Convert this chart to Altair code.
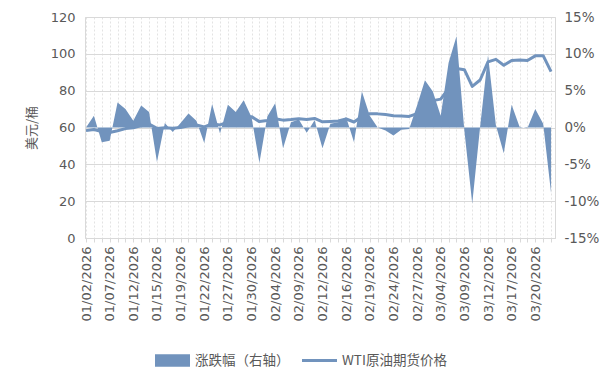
import json
import altair as alt
import pandas as pd

# ---- data -------------------------------------------------------------
dates = [
    "01/02/2026", "01/05/2026", "01/06/2026", "01/07/2026", "01/08/2026", "01/09/2026",
    "01/12/2026", "01/13/2026", "01/14/2026", "01/15/2026", "01/16/2026", "01/18/2026",
    "01/19/2026", "01/20/2026", "01/21/2026", "01/22/2026", "01/23/2026", "01/26/2026",
    "01/27/2026", "01/28/2026", "01/29/2026", "01/30/2026", "02/02/2026", "02/03/2026",
    "02/04/2026", "02/05/2026", "02/06/2026", "02/09/2026", "02/10/2026", "02/11/2026",
    "02/12/2026", "02/13/2026", "02/15/2026", "02/16/2026", "02/17/2026", "02/18/2026",
    "02/19/2026", "02/20/2026", "02/23/2026", "02/24/2026", "02/25/2026", "02/26/2026",
    "02/27/2026", "03/02/2026", "03/03/2026", "03/04/2026", "03/05/2026", "03/06/2026",
    "03/09/2026", "03/10/2026", "03/11/2026", "03/12/2026", "03/13/2026", "03/16/2026",
    "03/17/2026", "03/18/2026", "03/19/2026", "03/20/2026", "03/23/2026", "03/24/2026",
]

# WTI crude futures price (USD/bbl, left axis)
price = [
    58.3, 58.9, 57.8, 57.3, 58.2, 59.4, 59.8, 61.0, 61.8, 59.5,
    59.9, 59.6, 60.0, 60.9, 61.4, 60.3, 61.9, 61.4, 62.9, 64.0,
    65.6, 65.9, 63.2, 63.8, 64.8, 64.0, 64.3, 64.8, 64.4, 64.9,
    63.1, 63.3, 63.5, 64.6, 63.0, 66.0, 67.5, 67.4, 67.0, 66.4,
    66.2, 66.0, 67.5, 71.2, 74.6, 75.4, 81.2, 92.0, 91.4, 82.3,
    85.8, 95.6, 97.0, 93.8, 96.4, 96.6, 96.4, 98.9, 99.0, 90.3,
]

# daily change, % (right axis)
pct = [
    0.0, 1.6, -2.0, -1.8, 3.4, 2.5, 0.9, 3.0, 2.1, -4.7,
    0.6, -0.6, 0.6, 1.9, 0.9, -2.1, 3.2, -0.8, 3.1, 2.1,
    3.7, 1.4, -4.8, 1.5, 3.3, -2.8, 0.7, 1.1, -0.7, 1.0,
    -2.8, 0.5, 0.7, 1.4, -2.0, 4.9, 1.6, 0.0, -0.4, -1.1,
    -0.3, -0.2, 3.0, 6.4, 4.9, 1.6, 8.8, 12.4, -0.4, -10.3,
    0.1, 9.8, 0.3, -3.5, 3.1, 0.1, -0.1, 2.5, 0.5, -8.9,
]

series_names = ["涨跌幅（右轴）", "WTI原油期货价格"]
left_ticks = [0, 20, 40, 60, 80, 100, 120]
right_ticks = [-15, -10, -5, 0, 5, 10, 15]

# ---- build --------------------------------------------------------------
df = pd.DataFrame({"idx": list(range(len(dates))), "date": dates,
                   "price": price, "pct": pct})

COLOR = "#7193BD"
TXT = "#595959"
NUMFONT = "DejaVu Sans"
CJK = "Noto Sans CJK SC"

label_expr = ("datum.value % 3 === 0 ? " + json.dumps(dates, ensure_ascii=False)
              + "[datum.value] : ''")

x_enc = alt.X(
    "idx:Q",
    scale=alt.Scale(domain=[-0.13, 59.5], nice=False, zero=False),
    axis=alt.Axis(
        values=list(range(len(dates))), labelExpr=label_expr, labelAngle=-90,
        labelOverlap=False, labelFont=NUMFONT, labelFontSize=13, labelColor=TXT,
        labelPadding=4, grid=True, gridColor="#e3e3e3", gridDash=[2, 2],
        tickColor="#d9d9d9", tickSize=4, domainColor="#d9d9d9", title=None,
    ),
)

line = alt.Chart(df).mark_line(color=COLOR, strokeWidth=3, strokeJoin="round").encode(
    x=x_enc,
    y=alt.Y(
        "price:Q",
        scale=alt.Scale(domain=[0, 120], nice=False),
        axis=alt.Axis(
            orient="left", values=left_ticks, title="美元/桶", titleFont=CJK,
            titleFontSize=13, titleFontWeight="normal", titleColor=TXT, titlePadding=12,
            labelFont=NUMFONT, labelFontSize=13, labelColor=TXT, labelPadding=10,
            ticks=False, domain=False, grid=True, gridColor="#d9d9d9",
        ),
    ),
)

area = alt.Chart(df).mark_area(color=COLOR, opacity=1).encode(
    x=x_enc,
    y=alt.Y(
        "pct:Q",
        scale=alt.Scale(domain=[-15, 15], nice=False),
        axis=alt.Axis(
            orient="right", values=right_ticks, labelExpr="datum.value + '%'",
            title=None, labelFont=NUMFONT, labelFontSize=13.5, labelColor=TXT,
            labelPadding=9, ticks=False, domain=False, grid=False,
        ),
    ),
    y2=alt.datum(0),
)

leg_df = pd.DataFrame({"series": series_names, "idx": [0, 0], "v": [None, None]})
rect_path = "M-1,-0.36H1V0.36H-1Z"
bar_path = "M-1,-0.09H1V0.09H-1Z"
legend_layer = alt.Chart(leg_df).mark_point(filled=True, opacity=1).encode(
    x=x_enc,
    y=alt.Y("v:Q", axis=None, scale=alt.Scale(domain=[0, 1])),
    color=alt.value(COLOR),
    shape=alt.Shape(
        "series:N",
        scale=alt.Scale(domain=series_names, range=[rect_path, bar_path]),
        legend=alt.Legend(
            title=None, orient="none", legendX=70, legendY=326, direction="horizontal",
            columns=2, symbolSize=1225, symbolStrokeWidth=0, symbolOpacity=1,
            labelFont=CJK, labelFontSize=13.5, labelColor=TXT, labelOffset=5,
            columnPadding=12,
        ),
    ),
)

chart = (
    alt.layer(line, area, legend_layer)
    .resolve_scale(y="independent")
    .properties(width=470, height=221,
                padding={"left": 17, "top": 2, "right": 5, "bottom": 5},
                background="white")
    .configure_view(stroke="#d9d9d9")
)

chart.save("out.html", embed_options={"renderer": "svg", "actions": False})
